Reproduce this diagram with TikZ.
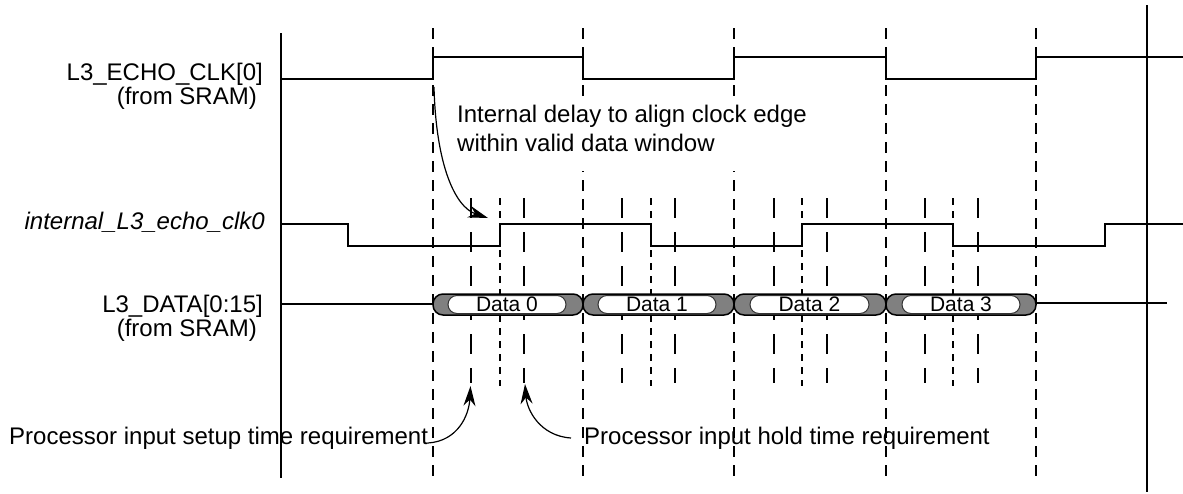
\documentclass[tikz,border=0pt]{standalone}
\usepackage{fontspec}
\setmainfont{Liberation Sans}
\usetikzlibrary{arrows.meta}
\begin{document}
\begin{tikzpicture}[x=1pt,y=-1pt,
  sig/.style={line width=2pt, line join=miter},
  major/.style={line width=2pt, dash pattern=on 11pt off 8pt},
  minor/.style={line width=2pt, dash pattern=on 20pt off 14pt},
  fine/.style={line width=1.7pt, dash pattern=on 6.5pt off 6.5pt},
  axis/.style={line width=2pt},
  lbl/.style={font=\fontsize{24}{28}\selectfont, inner sep=0pt},
  ilbl/.style={font=\fontsize{24}{28}\selectfont\itshape, inner sep=0pt},
  dlbl/.style={font=\fontsize{21}{25}\selectfont, inner sep=0pt},
  note/.style={line width=1.2pt, -{Stealth[length=20pt,width=12pt]}},
  busouter/.style={draw=black, line width=1.5pt, fill=black!50, rounded corners=10pt},
  businner/.style={draw=black!80, line width=1pt, fill=white, rounded corners=9pt},
]
\useasboundingbox (0,0) rectangle (1183,493);

% axes
\draw[axis] (281,33) -- (281,478);
\draw[axis] (1147,5) -- (1147,492);

% major dashed lines
\foreach \x in {433,583,734,886,1036} {
  \draw[major] (\x,28) -- (\x,478);
}
% minor lines
\foreach \x in {471,524,622,675,774,827,925,978} {
  \draw[minor] (\x,198) -- (\x,383);
}
\foreach \x in {500,651,802,953} {
  \draw[fine] (\x,198) -- (\x,386);
}

% white background of note text
\fill[white] (449,99) rectangle (812,171);

% signals
\draw[sig] (282,79) -- (433,79) -- (433,57) -- (583,57) -- (583,79) -- (734,79)
  -- (734,57) -- (886,57) -- (886,79) -- (1036,79) -- (1036,57) -- (1183,57);
\draw[sig] (280,224) -- (348,224) -- (348,246) -- (500,246) -- (500,224) -- (651,224)
  -- (651,246) -- (802,246) -- (802,224) -- (953,224) -- (953,246) -- (1105,246)
  -- (1105,224) -- (1183,224);
\draw[sig] (281,304) -- (434,304);
\draw[sig] (1035,303) -- (1167,303);

% bus
\foreach \a/\b/\ia/\ib/\t [count=\i] in {433/583/448/566/Data 0, 583/734/598/716/Data 1, 734/886/750/869/Data 2, 886/1036/902/1020/Data 3} {
  \draw[busouter] (\a,294) rectangle (\b,315);
  \draw[businner] (\ia,295.5) rectangle (\ib,313.5);
  \node[dlbl, anchor=base] (d\i) at ({(\ia+\ib)/2},311.5) {\t};
}

% labels
\node[lbl, anchor=base east] (echo1) at (263,80) {L3\_ECHO\_CLK[0]};
\node[lbl, anchor=base east] (echo2) at (257,104) {(from SRAM)};
\node[ilbl, anchor=base east] (intclk) at (265,229) {internal\_L3\_echo\_clk0};
\node[lbl, anchor=base east] (data1) at (263,312) {L3\_DATA[0:15]};
\node[lbl, anchor=base east] (data2) at (257,336) {(from SRAM)};
\node[lbl, anchor=base west] (delay1) at (457,122) {Internal delay to align clock edge};
\node[lbl, anchor=base west] (delay2) at (457,151) {within valid data window};
\node[lbl, anchor=base west] (setup) at (9,444) {Processor input setup time requirement};
\node[lbl, anchor=base west] (hold) at (584,444) {Processor input hold time requirement};

% annotation arrows
\coordinate (a1s) at (434,87);
\coordinate (a1e) at (488,218);
\draw[note] (a1s) .. controls (436,165) and (455,207) .. (a1e);
\coordinate (a2s) at (428,443);
\coordinate (a2e) at (470.5,386);
\draw[note] (a2s) .. controls (458,441) and (469,415) .. (a2e);
\coordinate (a3s) at (571,438);
\coordinate (a3e) at (525,384);
\draw[note] (a3s) .. controls (540,436) and (527,410) .. (a3e);
\end{tikzpicture}
\end{document}
